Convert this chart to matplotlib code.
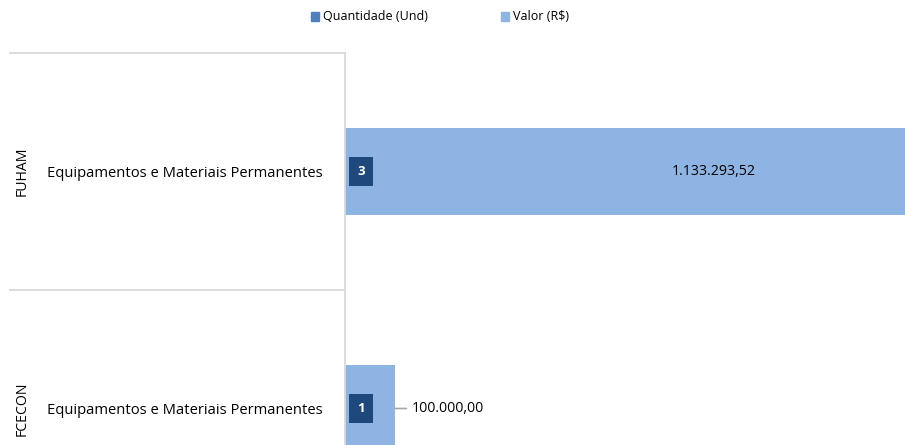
import matplotlib.pyplot as plt
from matplotlib.patches import Patch

plt.rcParams['font.family'] = ['Open Sans', 'DejaVu Sans']

grupos = ['FCECON', 'FUHAM']
categorias = ['Equipamentos e Materiais Permanentes', 'Equipamentos e Materiais Permanentes']
quantidade = [1, 3]
valor = [100000.00, 1133293.52]
rotulos_valor = ['100.000,00', '1.133.293,52']

cor_qtd = '#4F81BD'
cor_valor = '#8EB4E3'
cor_rotulo = '#1F497D'
cor_linha = '#D9D9D9'

W, H = 905, 445
fig = plt.figure(figsize=(W / 100, H / 100), dpi=100)

# eixo vai alem da borda de baixo e da direita (grafico recortado)
left, right = 345, 905
top, bottom = 53, 527
ax = fig.add_axes([left / W, 1 - bottom / H, (right - left) / W, (bottom - top) / H])

y = list(range(len(grupos)))
ax.barh(y, quantidade, height=0.37, color=cor_qtd)
ax.barh(y, valor, left=quantidade, height=0.37, color=cor_valor)

ax.set_xlim(0, 1120000)
ax.set_ylim(-0.5, 1.5)
ax.set_xticks([])
ax.set_yticks(y)
ax.set_yticklabels(categorias, fontsize=10.6)
ax.tick_params(axis='y', length=0, pad=16)
for s in ['top', 'right', 'bottom']:
    ax.spines[s].set_visible(False)
ax.spines['left'].set_color(cor_linha)
ax.spines['left'].set_linewidth(1.3)

# linhas separadoras do eixo de categorias
x0 = (10 - left) / (right - left)
for yl in [1.5, 0.5]:
    ax.plot([x0, 0], [yl, yl], transform=ax.get_yaxis_transform(), color=cor_linha,
            lw=1.3, clip_on=False)

# rotulos de grupo (verticais)
xg = (22 - left) / (right - left)
for yi, g in zip(y, grupos):
    ax.text(xg, yi, g, transform=ax.get_yaxis_transform(), rotation=90,
            ha='center', va='center', fontsize=10.2)

# rotulos de quantidade (caixa escura)
for yi, q in zip(y, quantidade):
    ax.annotate(str(q), xy=(0, yi), xytext=(16, 0), textcoords='offset pixels',
                ha='center', va='center', color='white', fontsize=9.5, fontweight='bold',
                bbox=dict(boxstyle='square,pad=0.6', fc=cor_rotulo, ec='none'))

# rotulos de valor
ax.text(valor[1] * 0.65, y[1], rotulos_valor[1], ha='center', va='center', fontsize=10.2)
ax.annotate(rotulos_valor[0], xy=(quantidade[0] + valor[0], y[0]), xytext=(17, 0),
            textcoords='offset pixels', ha='left', va='center', fontsize=10.2,
            arrowprops=dict(arrowstyle='-', color='#A6A6A6', lw=1.2,
                            shrinkA=2, shrinkB=0))

handles = [Patch(color=cor_qtd), Patch(color=cor_valor)]
fig.legend(handles, ['Quantidade (Und)', 'Valor (R$)'], loc='center',
           bbox_to_anchor=(0.486, 1 - 17 / H), ncol=2, frameon=False, fontsize=9,
           handlelength=0.7, handleheight=0.7, handletextpad=0.3, columnspacing=5.8)

fig.savefig('out.png', dpi=100)
